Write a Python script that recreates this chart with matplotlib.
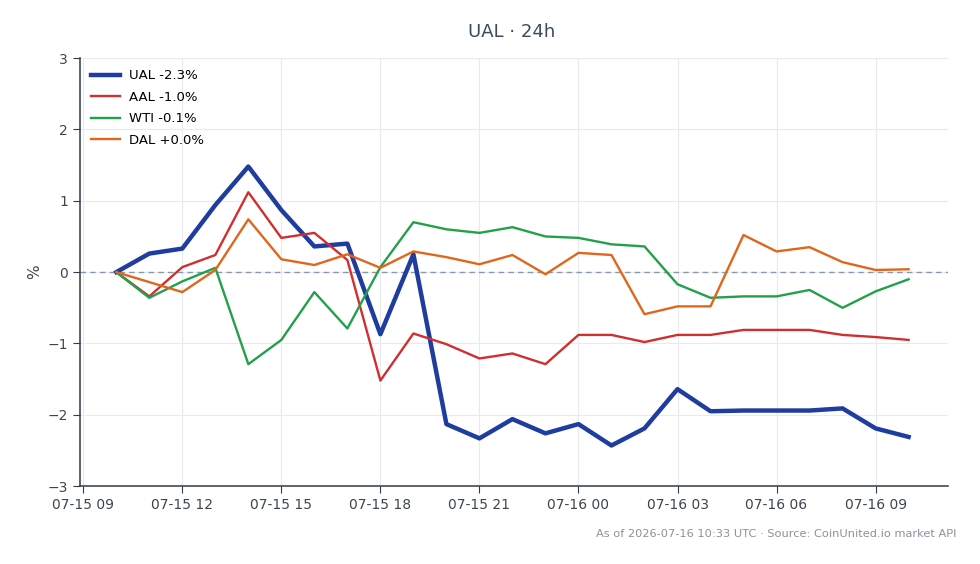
import matplotlib.pyplot as plt
import matplotlib.dates as mdates
import numpy as np
import pandas as pd

# hourly points, 07-15 10:00 .. 07-16 10:00
times = pd.date_range("2026-07-15 10:00", "2026-07-16 10:00", freq="h")

ual = [0.00, 0.26, 0.33, 0.94, 1.48, 0.87, 0.36, 0.40, -0.87, 0.25, -2.13, -2.33, -2.06,
       -2.26, -2.13, -2.43, -2.19, -1.64, -1.95, -1.94, -1.94, -1.94, -1.91, -2.19, -2.31]
aal = [0.00, -0.34, 0.07, 0.24, 1.12, 0.48, 0.55, 0.17, -1.52, -0.86, -1.01, -1.21, -1.14,
       -1.29, -0.88, -0.88, -0.98, -0.88, -0.88, -0.81, -0.81, -0.81, -0.88, -0.91, -0.95]
wti = [0.00, -0.36, -0.13, 0.06, -1.29, -0.95, -0.28, -0.79, 0.07, 0.70, 0.60, 0.55, 0.63,
       0.50, 0.48, 0.39, 0.36, -0.17, -0.36, -0.34, -0.34, -0.25, -0.50, -0.27, -0.10]
dal = [0.00, -0.14, -0.28, 0.03, 0.74, 0.18, 0.10, 0.25, 0.06, 0.29, 0.21, 0.11, 0.24,
       -0.03, 0.27, 0.24, -0.59, -0.48, -0.48, 0.52, 0.29, 0.35, 0.14, 0.03, 0.04]

series = [
    ("UAL -2.3%", ual, "#1f3d9e", 3.2),
    ("AAL -1.0%", aal, "#d12f2f", 1.7),
    ("WTI -0.1%", wti, "#23a04a", 1.7),
    ("DAL +0.0%", dal, "#e0661c", 1.7),
]

plt.rcParams['font.family'] = ['DejaVu Sans']
fig = plt.figure(figsize=(9.8, 5.64), dpi=100)
ax = fig.add_axes([0.0816, 0.138, 0.8854, 0.759])

for label, vals, color, lw in series:
    ax.plot(times, vals, color=color, lw=lw, label=label, zorder=3)

ax.axhline(0, color="#8a98ad", lw=1, ls=(0, (4, 3)), zorder=2)

ax.set_ylim(-3, 3)
ax.set_xlim(pd.Timestamp("2026-07-15 08:54"), pd.Timestamp("2026-07-16 11:11"))
ax.xaxis.set_major_locator(mdates.HourLocator(byhour=range(0, 24, 3)))
ax.xaxis.set_major_formatter(mdates.DateFormatter("%m-%d %H"))
ax.set_yticks([-3, -2, -1, 0, 1, 2, 3])
ax.set_yticklabels(["\u22123", "\u22122", "\u22121", "0", "1", "2", "3"])

ax.grid(True, color="#e8eaee", lw=0.8, zorder=0)
for s in ["top", "right"]:
    ax.spines[s].set_visible(False)
for s in ["left", "bottom"]:
    ax.spines[s].set_color("#2e3b4c")
    ax.spines[s].set_linewidth(1.1)
ax.tick_params(colors="#2e3b4c", labelcolor="#3c4650", labelsize=10, length=5)
ax.set_ylabel("%", color="#3c4650", fontsize=11)

leg = ax.legend(loc="upper left", frameon=False, fontsize=9.5, handlelength=2.2,
                handletextpad=0.7, borderaxespad=0.45, labelspacing=0.65)

fig.text(0.522, 0.943, "UAL \u00b7 24h", ha="center", va="center", fontsize=13, color="#3c4a5c")
fig.text(0.976, 0.053, "As of 2026-07-16 10:33 UTC \u00b7 Source: CoinUnited.io market API",
         ha="right", va="center", fontsize=8.2, color="#8a929c")

fig.savefig("out.png", dpi=100)
